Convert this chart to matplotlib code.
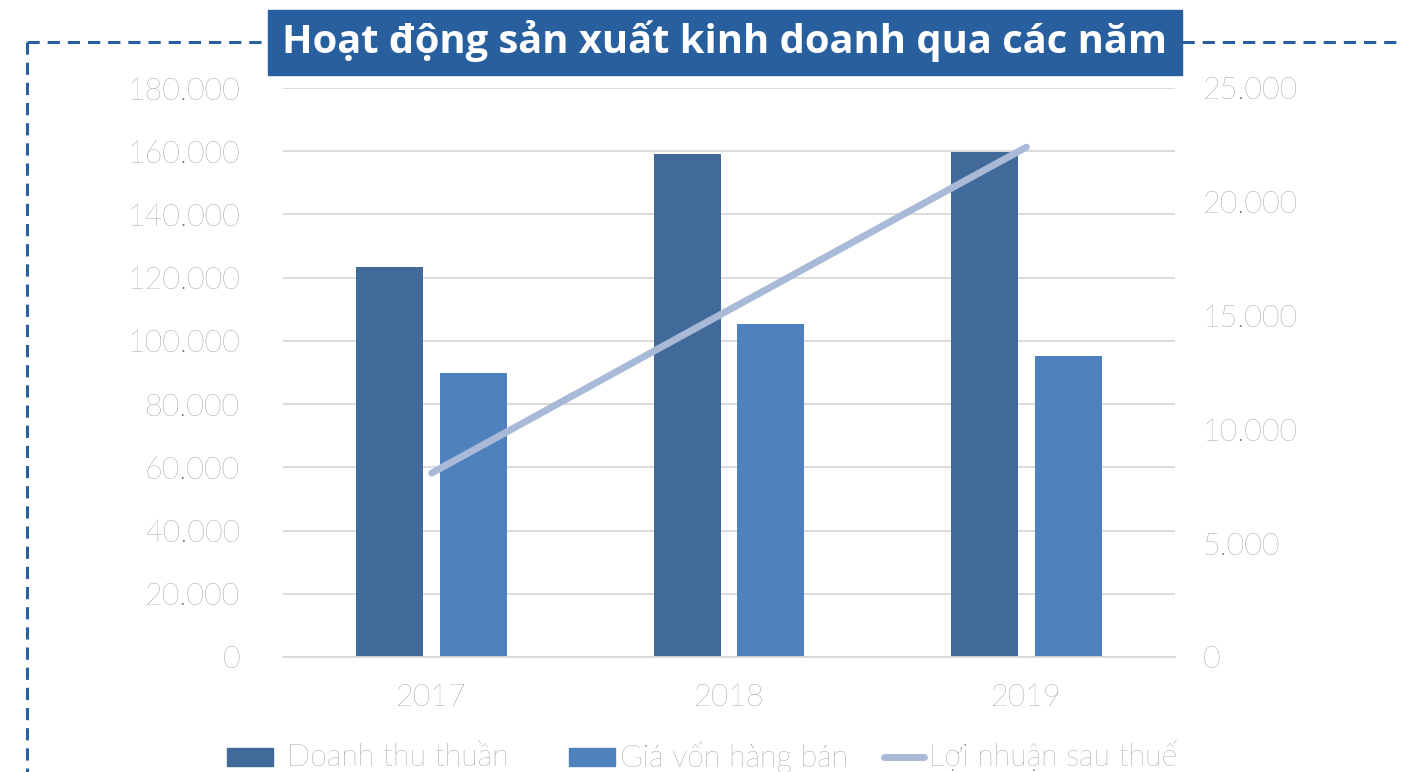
import matplotlib
matplotlib.use("Agg")
import matplotlib.pyplot as plt
from matplotlib.lines import Line2D
from matplotlib.patches import Rectangle
import numpy as np

years = ["2017", "2018", "2019"]
doanh_thu = [123400, 159100, 159750]
gia_von = [89850, 105350, 95250]
loi_nhuan = [8080, 15250, 22400]
left_ticks = [0, 20000, 40000, 60000, 80000, 100000, 120000, 140000, 160000, 180000]
right_ticks = [0, 5000, 10000, 15000, 20000, 25000]
title = "Hoạt động sản xuất kinh doanh qua các năm"
labels = ["Doanh thu thuần", "Giá vốn hàng bán", "Lợi nhuận sau thuế"]

C_DARK = "#416A9A"
C_LIGHT = "#4F81BD"
C_LINE = "#A9B9D8"
C_TITLE = "#285F9F"
C_TICK = "#767676"
C_GRID = "#D9D9D9"

FONT = ["Lato", "DejaVu Sans"]
TFONT = ["Open Sans", "DejaVu Sans"]
W, H = 1401, 772
fig = plt.figure(figsize=(W / 100, H / 100), dpi=100)

def fx(px):
    return px / W

def fy(py):
    return 1 - py / H

ax = fig.add_axes([fx(283), fy(657), fx(1175) - fx(283), fy(88) - fy(657)])
ax2 = ax.twinx()

x = np.arange(len(years))
bw = 0.225
off = 0.141
ax.bar(x - off, doanh_thu, bw, color=C_DARK, zorder=2)
ax.bar(x + off, gia_von, bw, color=C_LIGHT, zorder=2)
ax2.plot(x, loi_nhuan, color=C_LINE, lw=5, solid_capstyle="round", zorder=3)

ax.set_xlim(-0.5, 2.5)
ax.set_ylim(0, 180000)
ax2.set_ylim(0, 25000)

def fmt(v):
    return f"{v:,}".replace(",", ".")

tk = dict(fontsize=22, color=C_TICK, family=FONT, fontweight="light")
ax.set_yticks(left_ticks)
ax.set_yticklabels([fmt(v) for v in left_ticks], **tk)
ax2.set_yticks(right_ticks)
ax2.set_yticklabels([fmt(v) for v in right_ticks], **tk)
ax.set_xticks(x)
ax.set_xticklabels(years, **tk)

ax.tick_params(axis="y", length=0, pad=31)
ax2.tick_params(axis="y", length=0, pad=20)
ax.tick_params(axis="x", length=0, pad=19)

ax.grid(axis="y", color=C_GRID, lw=1.3, zorder=0)
ax.set_axisbelow(True)
for a in (ax, ax2):
    for s in a.spines.values():
        s.set_visible(False)
ax.spines["bottom"].set_visible(True)
ax.spines["bottom"].set_color(C_GRID)
ax.spines["bottom"].set_linewidth(1.3)

# dashed frame
dash = dict(color=C_TITLE, lw=2.2, linestyle=(0, (4, 2.6)), transform=fig.transFigure)
fig.add_artist(Line2D([fx(27), fx(268)], [fy(42), fy(42)], **dash))
fig.add_artist(Line2D([fx(1182), fx(1398)], [fy(42), fy(42)], **dash))
fig.add_artist(Line2D([fx(27), fx(27)], [fy(42), fy(772)], **dash))

# title box
fig.add_artist(Rectangle((fx(268), fy(75)), fx(1182) - fx(268), fy(10) - fy(75),
                         transform=fig.transFigure, color=C_TITLE, zorder=5))
tt = fig.text(fx(725), fy(41), title, color="white", fontsize=27, fontweight="bold",
              family=TFONT, ha="center", va="center", zorder=6)
renderer = fig.canvas.get_renderer()
wpx = tt.get_window_extent(renderer).width
tt.set_fontsize(27 * 885 / wpx)

# legend (manual layout, like the original)
ly = fy(757)
ph = (766 - 748) / H
for x0, c in [(227, C_DARK), (569, C_LIGHT)]:
    fig.add_artist(Rectangle((fx(x0), ly - ph / 2), fx(46), ph,
                             transform=fig.transFigure, color=c))
fig.add_artist(Line2D([fx(884), fx(924)], [ly, ly], color=C_LINE, lw=5,
                      solid_capstyle="round", transform=fig.transFigure))
for x0, lab in zip([287, 620, 929], labels):
    fig.text(fx(x0), ly, lab, color=C_TICK, fontsize=22, family=FONT,
             fontweight="light", ha="left", va="center")

fig.savefig("out.png", dpi=100)
